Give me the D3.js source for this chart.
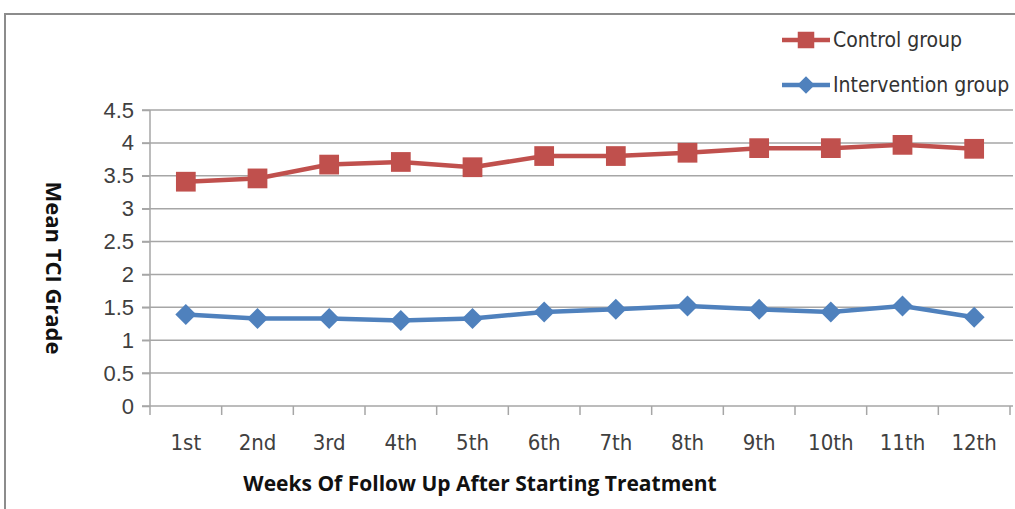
<!DOCTYPE html>
<html>
<head>
<meta charset="utf-8">
<script src="https://cdn.jsdelivr.net/npm/d3@7"></script>
<style>
  body { margin: 0; background: #fff; }
  svg { font-family: "Liberation Sans Narrow", "DejaVu Sans Condensed", "Open Sans", sans-serif; }
  .grid line { stroke: #a6a6a6; stroke-width: 1.5; }
  .axis path, .axis line { stroke: #a6a6a6; stroke-width: 1.5; }
  .axis text { fill: #404040; font-size: 22px; }
</style>
</head>
<body>
<svg width="1015" height="509"></svg>
<script>
var weeks = ["1st", "2nd", "3rd", "4th", "5th", "6th", "7th", "8th", "9th", "10th", "11th", "12th"];
var control = [3.41, 3.46, 3.67, 3.71, 3.63, 3.80, 3.80, 3.85, 3.92, 3.92, 3.97, 3.91];
var intervention = [1.39, 1.33, 1.33, 1.30, 1.33, 1.43, 1.47, 1.52, 1.47, 1.43, 1.52, 1.35];
var yTicks = [0, 0.5, 1, 1.5, 2, 2.5, 3, 3.5, 4, 4.5];

var svg = d3.select("svg");

var plotLeft = 150, plotRight = 1010, plotTop = 110, plotBottom = 406;

// frame
svg.append("path")
    .attr("d", "M5,509 L5,14 L1015,14")
    .attr("fill", "none")
    .attr("stroke", "#8c8c8c")
    .attr("stroke-width", 2);

var x = d3.scaleBand()
    .domain(weeks)
    .range([plotLeft, plotRight])
    .padding(0);

var y = d3.scaleLinear()
    .domain([0, 4.5])
    .range([plotBottom, plotTop]);

// gridlines
svg.append("g")
    .attr("class", "grid")
    .selectAll("line")
    .data(yTicks.slice(1))
    .enter()
    .append("line")
    .attr("x1", plotLeft - 8)
    .attr("x2", plotRight + 3)
    .attr("y1", function(d) { return y(d); })
    .attr("y2", function(d) { return y(d); });

// y axis
var yAxis = d3.axisLeft(y)
    .tickValues(yTicks)
    .tickFormat(d3.format("~g"))
    .tickSize(8)
    .tickPadding(8);
svg.append("g")
    .attr("class", "axis")
    .attr("transform", "translate(" + plotLeft + ",0)")
    .call(yAxis)
    .call(function(g) { g.select(".domain").attr("d", "M0," + plotTop + "V" + plotBottom); });

// x axis: ticks between categories
svg.append("g")
    .attr("class", "axis")
    .selectAll("line")
    .data(weeks.map(function(d) { return x(d); }).concat([plotRight]))
    .enter()
    .append("line")
    .attr("x1", function(d) { return d; })
    .attr("x2", function(d) { return d; })
    .attr("y1", plotBottom)
    .attr("y2", plotBottom + 9);

svg.append("line")
    .attr("x1", plotLeft - 8)
    .attr("x2", plotRight + 3)
    .attr("y1", plotBottom)
    .attr("y2", plotBottom)
    .attr("stroke", "#a6a6a6")
    .attr("stroke-width", 1.5);

svg.append("g")
    .attr("class", "axis")
    .selectAll("text")
    .data(weeks)
    .enter()
    .append("text")
    .attr("x", function(d) { return x(d) + x.bandwidth() / 2; })
    .attr("y", 450)
    .attr("text-anchor", "middle")
    .text(function(d) { return d; });

// axis titles
svg.append("text")
    .attr("transform", "translate(46,268) rotate(90)")
    .attr("text-anchor", "middle")
    .attr("font-family", "'Open Sans', sans-serif")
    .attr("font-weight", "bold")
    .attr("font-size", 22)
    .attr("fill", "#111")
    .text("Mean TCI Grade");

svg.append("text")
    .attr("x", 480)
    .attr("y", 491)
    .attr("text-anchor", "middle")
    .attr("font-family", "'Open Sans', sans-serif")
    .attr("font-weight", "bold")
    .attr("font-size", 21)
    .attr("fill", "#111")
    .text("Weeks Of Follow Up After Starting Treatment");

var line = d3.line()
    .x(function(d, i) { return x(weeks[i]) + x.bandwidth() / 2; })
    .y(function(d) { return y(d); });

var series = [
    { name: "Control group", values: control, color: "#c0504d", symbol: d3.symbolSquare, size: 390, rot: 0, ly: 40 },
    { name: "Intervention group", values: intervention, color: "#4f81bd", symbol: d3.symbolSquare, size: 220, rot: 45, ly: 85 }
];

series.forEach(function(s) {
    svg.append("path")
        .attr("d", line(s.values))
        .attr("fill", "none")
        .attr("stroke", s.color)
        .attr("stroke-width", 4.5);

    svg.selectAll(null)
        .data(s.values)
        .enter()
        .append("path")
        .attr("d", d3.symbol().type(s.symbol).size(s.size))
        .attr("fill", s.color)
        .attr("transform", function(d, i) {
            return "translate(" + (x(weeks[i]) + x.bandwidth() / 2) + "," + y(d) + ") rotate(" + s.rot + ")";
        });

    // legend
    svg.append("line")
        .attr("x1", 782)
        .attr("x2", 830)
        .attr("y1", s.ly)
        .attr("y2", s.ly)
        .attr("stroke", s.color)
        .attr("stroke-width", 4.5);
    svg.append("path")
        .attr("d", d3.symbol().type(s.symbol).size(s.size * 0.7))
        .attr("fill", s.color)
        .attr("transform", "translate(806," + s.ly + ") rotate(" + s.rot + ")");
    svg.append("text")
        .attr("x", 833)
        .attr("y", s.ly + 7)
        .attr("font-size", 21)
        .attr("fill", "#333")
        .text(s.name);
});
</script>
</body>
</html>
